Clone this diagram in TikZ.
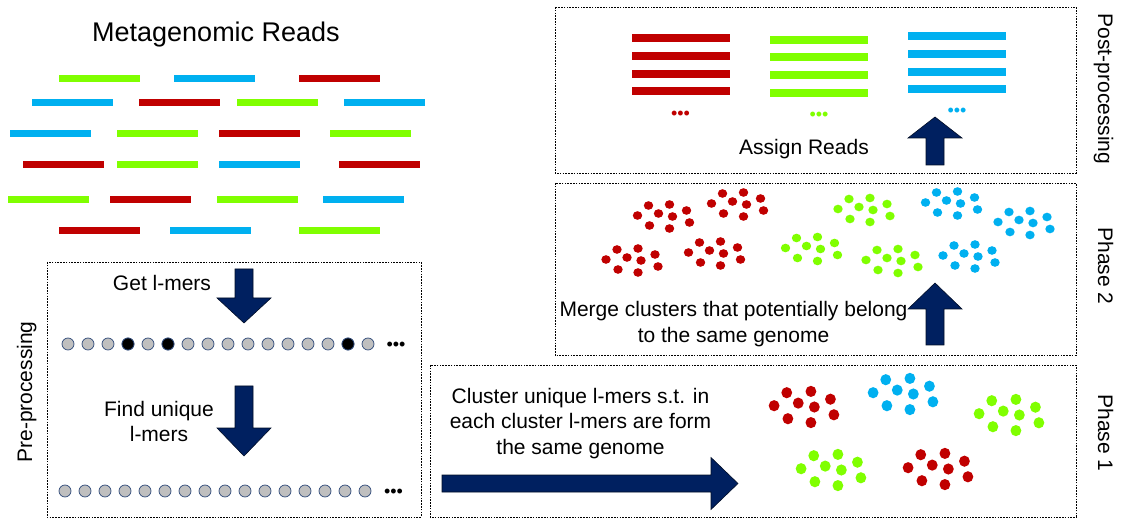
\documentclass[tikz,border=0pt]{standalone}
\usepackage{fontspec}
\setmainfont{Liberation Sans}
\definecolor{readred}{HTML}{C00000}
\definecolor{readgreen}{HTML}{80FF00}
\definecolor{readblue}{HTML}{00B0F0}
\definecolor{navyfill}{HTML}{002060}
\definecolor{lmergray}{HTML}{BFBFBF}
\definecolor{lmerline}{HTML}{2F4A7A}
\tikzset{
  stagebox/.style={draw=black, line width=0.9pt, dash pattern=on 1.6pt off 1.2pt},
  fatarrow/.style={fill=navyfill, draw=black!60!navyfill, line width=0.6pt},
  lmer/.style={circle, draw=lmerline, fill=lmergray, line width=0.7pt, minimum size=12pt, inner sep=0pt},
  txt/.style={font=\fontsize{21}{25.5}\selectfont, align=center, anchor=base, inner sep=0pt},
  stagelabel/.style={font=\fontsize{21}{25}\selectfont, anchor=base, inner sep=0pt},
  dotsmore/.style={font=\fontsize{18}{18}\selectfont, anchor=base, inner sep=0pt}
}
% block arrow: centre x, tail y, head base y, tip y
\newcommand{\vfatarrow}[4]{%
  \draw[fatarrow] ({#1-9},#2) -- ({#1+9},#2) -- ({#1+9},#3) -- ({#1+27},#3)
    -- (#1,#4) -- ({#1-27},#3) -- ({#1-9},#3) -- cycle;}
% cluster of l-mers: centre x, centre y, colour, x spread, y spread
\newcommand{\lmercluster}[5]{%
  \foreach \dx/\dy in {-15/-11,6/-12,23/-6,-26/-1,-5/-3,9/0,26/6,-14/9,6/12}
    \fill[#3] ({#1+#4*\dx},{#2+#5*\dy}) ellipse ({4.7*#4} and {4.3*#5});}
\begin{document}
\begin{tikzpicture}[x=1pt,y=-1pt]
\useasboundingbox (0,0) rectangle (1125,521);

% reads
\node[txt, font=\fontsize{27}{32}\selectfont] (title) at (216,42) {Metagenomic Reads};
\foreach \x/\y/\c in {59/79/readgreen,174/79/readblue,299/79/readred,
  32/103/readblue,139/103/readred,237/103/readgreen,344/103/readblue,
  10/134/readblue,117/134/readgreen,219/134/readred,330/134/readgreen,
  23/165/readred,117/165/readgreen,219/165/readblue,339/165/readred,
  8/200/readgreen,110/200/readred,217/200/readgreen,323/200/readblue,
  59/231/readred,170/231/readblue,299/231/readgreen}
  \fill[\c] (\x,{\y-3.5}) rectangle ++(81,7);

% pre-processing
\draw[stagebox] (47,262) rectangle (421,517);
\node[stagelabel, rotate=90] (pre) at (32,392) {Pre-processing};
\node[txt] (getl) at (162,291) {Get l-mers};
\vfatarrow{244}{269}{298}{323}
\foreach \i in {0,...,15}
  \node[lmer] (all\i) at ({68+20*\i},344) {};
\foreach \i in {3,5,14}
  \node[lmer, fill=black] at (all\i) {};
\node[dotsmore] (allmore) at (396,350.3) {•••};
\node[txt] (findu) at (159,441.7) {Find unique\\l-mers};
\vfatarrow{244}{386}{428}{456}
\foreach \i in {0,...,15}
  \node[lmer] (uniq\i) at ({65+20*\i},491) {};
\node[dotsmore] (uniqmore) at (393.5,497.3) {•••};

% phase 1
\draw[stagebox] (430,365) rectangle (1076,517);
\node[stagelabel, rotate=-90] (ph1) at (1098,433) {Phase 1};
\node[txt] (clust) at (580.5,454) {Cluster unique l-mers s.t. in\\each cluster l-mers are form\\the same genome};
\draw[fatarrow] (442,475) -- (711,475) -- (711,457.5) -- (738,483.5)
  -- (711,509.5) -- (711,492) -- (442,492) -- cycle;
\lmercluster{804}{407}{readred}{1.15}{1.3}
\lmercluster{903}{394}{readblue}{1.15}{1.3}
\lmercluster{1009}{415}{readgreen}{1.15}{1.3}
\lmercluster{831}{470}{readgreen}{1.15}{1.3}
\lmercluster{938}{469}{readred}{1.15}{1.3}

% phase 2
\draw[stagebox] (555,183) rectangle (1076,355);
\node[stagelabel, rotate=-90] (ph2) at (1098,266) {Phase 2};
\lmercluster{663.5}{216.5}{readred}{1}{1}
\lmercluster{737.5}{204.5}{readred}{1}{1}
\lmercluster{632}{260.5}{readred}{1}{1}
\lmercluster{714.5}{253.5}{readred}{1}{1}
\lmercluster{864}{210}{readgreen}{1}{1}
\lmercluster{811.5}{249}{readgreen}{1}{1}
\lmercluster{892}{261}{readgreen}{1}{1}
\lmercluster{951.5}{203.5}{readblue}{1}{1}
\lmercluster{1024}{223}{readblue}{1}{1}
\lmercluster{969}{256.5}{readblue}{1}{1}
\node[txt] (merge) at (733.5,342.3) {Merge clusters that potentially belong\\to the same genome};
\vfatarrow{935}{345}{309}{283}

% post-processing
\draw[stagebox] (555,7) rectangle (1076,173);
\node[stagelabel, rotate=-90] (post) at (1098,89) {Post-processing};
\foreach \y in {38,56,74,91}
  \fill[readred] (632,{\y-4}) rectangle ++(98,8);
\foreach \y in {40,57,75,93}
  \fill[readgreen] (770,{\y-4}) rectangle ++(98,8);
\foreach \y in {36,54,72,89}
  \fill[readblue] (908,{\y-4}) rectangle ++(98,8);
\node[dotsmore, text=readred] (redmore) at (680.5,120) {•••};
\node[dotsmore, text=readgreen] (greenmore) at (819,121) {•••};
\node[dotsmore, text=readblue] (bluemore) at (957,117) {•••};
\node[txt] (assign) at (804,155) {Assign Reads};
\vfatarrow{935}{165}{138}{117}
\end{tikzpicture}
\end{document}
